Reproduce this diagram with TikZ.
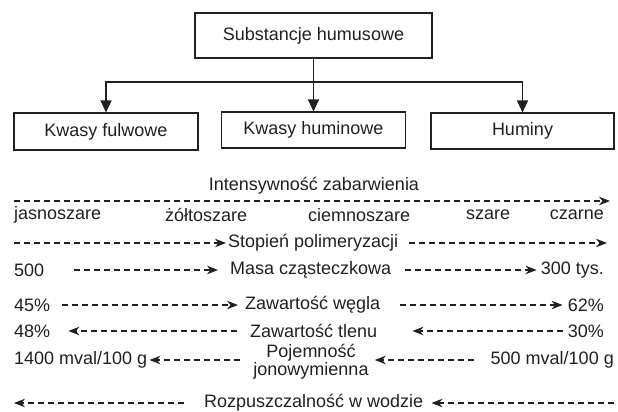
\documentclass[tikz,border=0pt]{standalone}
\usepackage{fontspec}
\setmainfont{Liberation Sans}
\usetikzlibrary{arrows.meta}
\definecolor{ink}{HTML}{231F20}
\begin{document}
\begin{tikzpicture}[x=1pt,y=-1pt,
  every node/.style={text=ink,font=\fontsize{18}{14.5}\selectfont},
  box/.style={draw=ink,line width=1.1pt,inner sep=0pt,align=center},
  tree/.style={draw=ink,line width=1.1pt,-{Triangle[length=12pt,width=11pt]}},
  lbl/.style={inner sep=0pt},
  dline/.style={draw=ink,line width=1.1pt,dash pattern=on 6pt off 4pt,-{Stealth[length=11pt,width=8.5pt,inset=3.5pt]}}]
\useasboundingbox (0,0) rectangle (618,412);
% tree
\node[box,minimum width=237pt,minimum height=45pt] (top) at (313.5,35.5) {Substancje humusowe};
\node[box,minimum width=184pt,minimum height=37pt] (b1) at (106,131.5) {Kwasy fulwowe};
\node[box,minimum width=184pt,minimum height=36pt] (b2) at (313.5,130) {Kwasy huminowe};
\node[box,minimum width=183pt,minimum height=36pt] (b3) at (522.5,131) {Huminy};
\coordinate (j) at (313.5,82);
\draw[draw=ink,line width=1.1pt] (top.south) -- (j);
\draw[tree] (j) -| (b1.north);
\draw[tree] (j) -- (b2.north);
\draw[tree] (j) -| (b3.north);
% Intensywnosc
\node[lbl] (int) at (314,186) {Intensywność zabarwienia};
\coordinate (i0) at (14,201);
\coordinate (i1) at (610,201);
\draw[dline] (i0) -- (i1);
\node[lbl,anchor=west] (c1) at (14,215) {jasnoszare};
\node[lbl,anchor=west] (c2) at (165,215) {żółtoszare};
\node[lbl,anchor=west] (c3) at (308,215) {ciemnoszare};
\node[lbl,anchor=west] (c4) at (466,215) {szare};
\node[lbl,anchor=east] (c5) at (604,215) {czarne};
% Stopien
\node[lbl,anchor=west] (sp) at (228,243) {Stopień polimeryzacji};
\coordinate (s0) at (14,243);
\coordinate (s1) at (607,243);
\draw[dline] (s0) -- ([xshift=-2pt]sp.west);
\draw[dline] ([xshift=11pt]sp.east) -- (s1);
% Masa
\node[lbl,anchor=west] (m0) at (14,270) {500};
\node[lbl,anchor=west] (ms) at (230,270) {Masa cząsteczkowa};
\node[lbl,anchor=east] (m1) at (604,270) {300 tys.};
\draw[dline] ([xshift=30pt]m0.east) -- ([xshift=-12pt]ms.west);
\draw[dline] ([xshift=14pt]ms.east) -- ([xshift=-4pt]m1.west);
% wegiel
\node[lbl,anchor=west] (w0) at (14,305) {45\%};
\node[lbl,anchor=west] (ws) at (245,305) {Zawartość węgla};
\node[lbl,anchor=east] (w1) at (604,305) {62\%};
\draw[dline] ([xshift=12pt]w0.east) -- ([xshift=-7pt]ws.west);
\draw[dline] ([xshift=20pt]ws.east) -- ([xshift=-5pt]w1.west);
% tlen
\node[lbl,anchor=west] (t0) at (14,331) {48\%};
\node[lbl,anchor=west] (ts) at (250,331) {Zawartość tlenu};
\node[lbl,anchor=east] (t1) at (604,331) {30\%};
\draw[dline] ([xshift=-13pt]ts.west) -- ([xshift=18pt]t0.east);
\draw[dline] ([xshift=-5pt]t1.west) -- ([xshift=35pt]ts.east);
% pojemnosc
\node[lbl,anchor=west] (p0) at (14,360) {1400 mval/100 g};
\node[lbl,align=center] (ps) at (311,362) {Pojemność\\jonowymienna};
\node[lbl,anchor=east] (p1) at (614,360) {500 mval/100 g};
\coordinate (pa) at (240,360);
\coordinate (pb) at (474,360);
\draw[dline] (pa) -- ([xshift=2pt]p0.east);
\draw[dline] (pb) -- ([xshift=6pt]ps.east |- pb);
% rozpuszczalnosc
\node[lbl,anchor=west] (rs) at (204,403) {Rozpuszczalność w wodzie};
\coordinate (r0) at (14,403);
\coordinate (r1) at (614,403);
\draw[dline] ([xshift=-20pt]rs.west) -- (r0);
\draw[dline] (r1) -- ([xshift=8pt]rs.east);
\end{tikzpicture}
\end{document}
